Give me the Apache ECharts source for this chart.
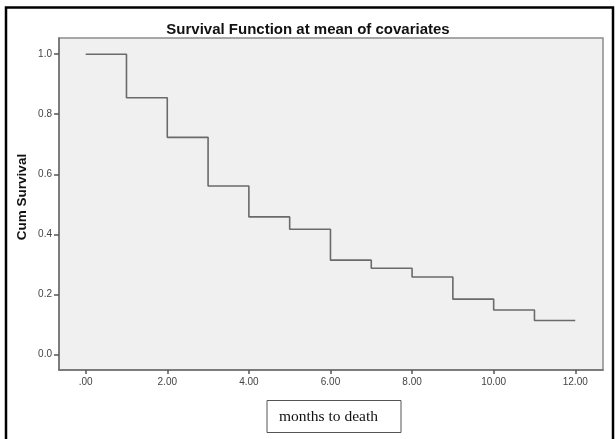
<!DOCTYPE html>
<html>
<head>
<meta charset="utf-8">
<script src="https://cdn.jsdelivr.net/npm/echarts@6/dist/echarts.min.js"></script>
<style>
html,body{margin:0;padding:0;background:#fff;}
#c{width:616px;height:439px;}
</style>
</head>
<body>
<div id="c"></div>
<script>
// Data
var months = [0, 1, 2, 3, 4, 5, 6, 7, 8, 9, 10, 11, 12];
var cumSurvival = [1.0, 0.855, 0.723, 0.561, 0.458, 0.417, 0.314, 0.287, 0.258, 0.184, 0.148, 0.113, 0.113];
var xTicks = [0, 2, 4, 6, 8, 10, 12];
var yTicks = [0, 0.2, 0.4, 0.6, 0.8, 1.0];
var titleText = 'Survival Function at mean of covariates';
var xName = 'months to death';
var yName = 'Cum Survival';

var seriesData = months.map(function (m, i) { return [m, cumSurvival[i]]; });

var chart = echarts.init(document.getElementById('c'), null, {renderer: 'canvas'});
chart.setOption({
  animation: false,
  backgroundColor: '#ffffff',
  title: {
    text: titleText,
    left: 'center',
    top: 17,
    textStyle: {fontFamily: 'Liberation Sans, Arial, sans-serif', fontWeight: 'bold', fontSize: 15, color: '#111'}
  },
  grid: {
    left: 59, right: 13, top: 38, bottom: 69,
    show: true,
    backgroundColor: '#f0f0f0',
    borderColor: '#8c8c8c',
    borderWidth: 1.5
  },
  xAxis: {
    type: 'value',
    min: -0.654,
    max: 12.68,
    splitLine: {show: false},
    axisLine: {show: true, onZero: false, lineStyle: {color: '#6e6e6e', width: 1.5}},
    axisTick: {show: true, length: 4, customValues: xTicks, lineStyle: {color: '#555', width: 1.5}},
    axisLabel: {
      customValues: xTicks,
      margin: 7,
      fontFamily: 'Liberation Sans, Arial, sans-serif',
      fontSize: 10,
      color: '#444',
      formatter: function (v) { var s = v.toFixed(2); return s.indexOf('0.') === 0 ? s.substring(1) : s; }
    }
  },
  yAxis: {
    type: 'value',
    min: -0.052,
    max: 1.054,
    splitLine: {show: false},
    axisLine: {show: true, onZero: false, lineStyle: {color: '#6e6e6e', width: 1.5}},
    axisTick: {show: true, length: 5, customValues: yTicks, lineStyle: {color: '#555', width: 1.5}},
    axisLabel: {
      customValues: yTicks,
      margin: 7,
      fontFamily: 'Liberation Sans, Arial, sans-serif',
      fontSize: 10,
      color: '#444',
      formatter: function (v) { return v.toFixed(1); }
    }
  },
  series: [{
    type: 'line',
    step: 'end',
    data: seriesData,
    showSymbol: false,
    symbol: 'none',
    lineStyle: {color: '#6a6a6a', width: 1.6},
    silent: true
  }],
  graphic: [
    {
      type: 'rect',
      shape: {x: 6, y: 7.5, width: 607, height: 445},
      style: {fill: 'none', stroke: '#000', lineWidth: 2.5},
      silent: true
    },
    {
      type: 'text',
      x: 22, y: 197,
      rotation: Math.PI / 2,
      style: {
        text: yName,
        fontFamily: 'Liberation Sans, Arial, sans-serif',
        fontWeight: 'bold',
        fontSize: 13.5,
        fill: '#111',
        align: 'center',
        verticalAlign: 'middle'
      }
    },
    {
      type: 'rect',
      shape: {x: 267, y: 400.5, width: 134, height: 32},
      style: {fill: '#fff', stroke: '#555', lineWidth: 1},
      silent: true
    },
    {
      type: 'text',
      x: 279, y: 416.5,
      style: {
        text: xName,
        fontFamily: 'Liberation Serif, Times New Roman, serif',
        fontSize: 15.5,
        fill: '#111',
        align: 'left',
        verticalAlign: 'middle'
      }
    }
  ]
});
</script>
</body>
</html>
